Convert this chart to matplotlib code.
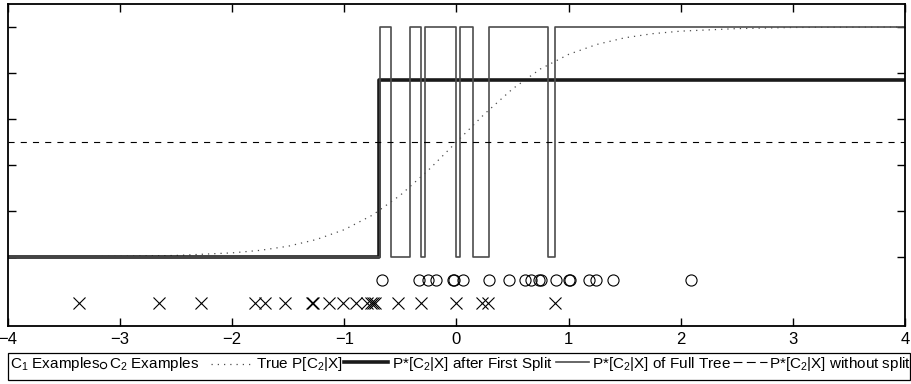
import numpy as np
import matplotlib
matplotlib.use('Agg')
import matplotlib.pyplot as plt
from matplotlib.lines import Line2D
from matplotlib.patches import Rectangle

plt.rcParams['font.family'] = ['Liberation Sans', 'DejaVu Sans']
plt.rcParams['mathtext.fontset'] = 'custom'
plt.rcParams['mathtext.rm'] = 'Liberation Sans'
plt.rcParams['mathtext.it'] = 'Liberation Sans:italic'

# C1 examples (crosses) and C2 examples (circles), x positions
c1_x = [-3.37, -2.65, -2.28, -1.80, -1.71, -1.53, -1.29, -1.28, -1.135, -1.01,
        -0.90, -0.80, -0.76, -0.745, -0.73, -0.52, -0.32, 0.0, 0.225, 0.285, 0.88]
c2_x = [-0.66, -0.33, -0.25, -0.18, -0.03, -0.02, 0.06, 0.29, 0.47, 0.61, 0.66,
        0.74, 0.75, 0.89, 1.0, 1.01, 1.18, 1.24, 1.40, 2.09]
c1_y = -0.2
c2_y = -0.1

# true posterior P[C2|X]
true_x = [-4, -3.5, -3, -2.5, -2, -1.75, -1.5, -1.25, -1, -0.75, -0.5, -0.25, 0,
          0.25, 0.5, 0.75, 1, 1.25, 1.5, 1.75, 2, 2.5, 3, 3.5, 4]
true_p = [0.0003, 0.0009, 0.0025, 0.0067, 0.018, 0.029, 0.047, 0.076, 0.119, 0.182,
          0.269, 0.378, 0.5, 0.622, 0.731, 0.818, 0.881, 0.924, 0.953, 0.971,
          0.982, 0.993, 0.998, 0.999, 1.0]

# estimate after the first split
split_x = [-4, -0.69, 4]
split_p = [0.0, 0.77, 0.77]

# estimate of the full tree
tree_x = [-4, -0.68, -0.585, -0.415, -0.32, -0.28, -0.007, 0.034, 0.145, 0.29, 0.82, 0.88, 4]
tree_p = [0, 1, 0, 1, 0, 1, 0, 1, 0, 1, 0, 1, 1]

# no split at all
nosplit_p = 0.5

W, H = 912, 384
fig = plt.figure(figsize=(W/100, H/100), dpi=100)
ax = fig.add_axes([8/W, 1 - 326/H, 897/W, 322/H])

ax.plot(c1_x, [c1_y]*len(c1_x), 'x', color='black', ms=8, mew=0.8)
ax.plot(c2_x, [c2_y]*len(c2_x), 'o', color='black', mfc='none', ms=8, mew=0.8)
ax.plot(true_x, true_p, color='0.3', lw=0.9, linestyle=(0, (1, 4)))
ax.plot(split_x, split_p, color='0.1', lw=2.6, drawstyle='steps-post')
ax.plot(tree_x, tree_p, color='0.3', lw=1.2, drawstyle='steps-post')
ax.plot([-4, 4], [nosplit_p, nosplit_p], color='black', lw=0.8, linestyle=(0, (5.5, 5.5)))

ax.set_xlim(-4, 4)
ax.set_ylim(-0.3, 1.1)
ax.set_xticks([-4, -3, -2, -1, 0, 1, 2, 3, 4])
ax.set_yticks([0, 0.2, 0.4, 0.6, 0.8, 1.0])
ax.set_yticklabels([])
ax.tick_params(direction='in', top=True, right=True, length=6, width=1, labelsize=12, pad=4)
for s in ax.spines.values():
    s.set_linewidth(1.3)

# legend box drawn by hand (pixel positions -> figure fraction)
def fx(px):
    return px / W

def fy(py):
    return 1 - py / H

fig.add_artist(Rectangle((fx(8), fy(380)), fx(910) - fx(8), fy(353) - fy(380),
                         transform=fig.transFigure, fill=False, ec='black', lw=0.9))

legfont = dict(fontsize=11, va='baseline', ha='left')
texts = [(10, 'C$_1$ Examples'), (109, 'C$_2$ Examples'), (256, 'True P[C$_2$|X]'),
         (392, 'P*[C$_2$|X] after First Split'), (592, 'P*[C$_2$|X] of Full Tree'),
         (769, 'P*[C$_2$|X] without split')]
for px, t in texts:
    fig.text(fx(px), fy(368), t, **legfont)

fig.add_artist(Line2D([fx(103)], [fy(365)], marker='o', ms=4.5, mfc='none', mec='black',
                      mew=0.8, ls='none', transform=fig.transFigure))
fig.add_artist(Line2D([fx(211), fx(254)], [fy(364), fy(364)], color='0.3', lw=0.9,
                      ls=(0, (1, 4)), transform=fig.transFigure))
fig.add_artist(Line2D([fx(344), fx(388)], [fy(362), fy(362)], color='0.1', lw=2.6,
                      transform=fig.transFigure))
fig.add_artist(Line2D([fx(556), fx(589)], [fy(362), fy(362)], color='0.3', lw=1.2,
                      transform=fig.transFigure))
fig.add_artist(Line2D([fx(733), fx(767)], [fy(362), fy(362)], color='black', lw=0.8,
                      ls=(0, (8, 4)), transform=fig.transFigure))

fig.savefig('out.png', dpi=100)
